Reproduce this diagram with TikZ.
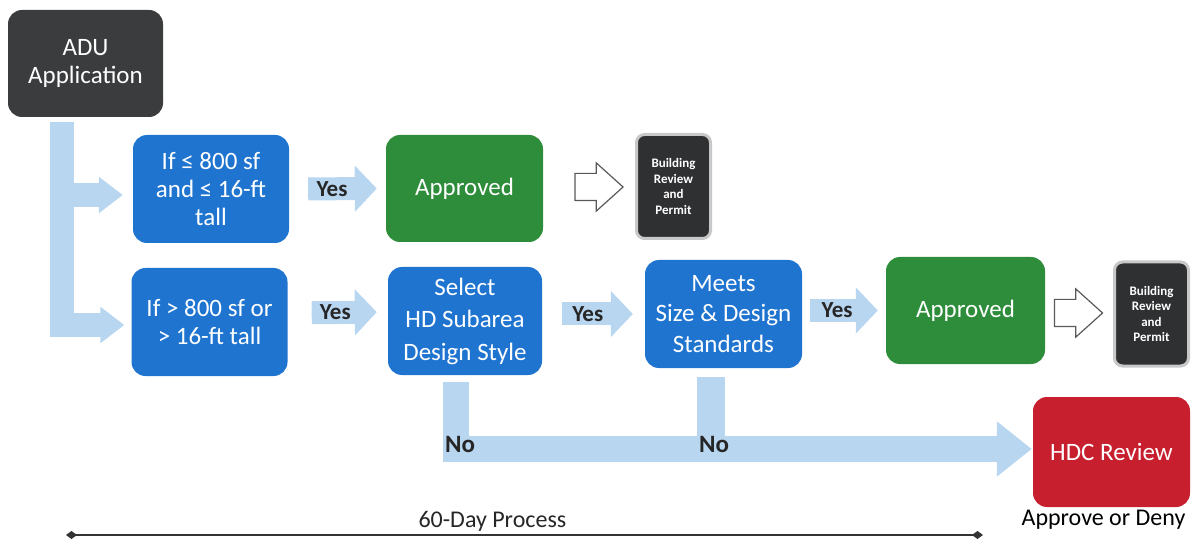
\documentclass[tikz,border=0pt]{standalone}
\usepackage{fontspec}
\setmainfont{Carlito}
\usetikzlibrary{arrows.meta,positioning,calc,shapes.arrows}

\definecolor{aduGray}{HTML}{3B3C3E}
\definecolor{stepBlue}{HTML}{1F74D0}
\definecolor{okGreen}{HTML}{2E8D3A}
\definecolor{hdcRed}{HTML}{C71F2E}
\definecolor{permitGray}{HTML}{2F3032}
\definecolor{rimGray}{HTML}{C8C8C8}
\definecolor{flowBlue}{HTML}{B9D6F1}
\definecolor{inkGray}{HTML}{262626}

\begin{document}
\begin{tikzpicture}[x=1pt,y=-1pt,
    box/.style={rounded corners=14pt,minimum width=156pt,minimum height=108pt,inner sep=0pt,align=center,text=white,font=\fontsize{25}{28}\selectfont},
    startbox/.style={box,fill=aduGray},
    askbox/.style={box,fill=stepBlue},
    okbox/.style={box,fill=okGreen},
    hdcbox/.style={box,fill=hdcRed},
    permitbox/.style={rounded corners=8pt,fill=permitGray,draw=rimGray,line width=3pt,minimum width=74pt,minimum height=104pt,inner sep=0pt,align=center,text=white,font=\bfseries\fontsize{13}{15.5}\selectfont},
    band/.style={draw=flowBlue,line width=24pt,line join=miter,-{Triangle[length=24pt,width=35pt]}},
    yesband/.style={draw=flowBlue,line width=23pt,-{Triangle[length=22pt,width=45pt]}},
    noband/.style={draw=flowBlue,line width=26pt,line join=miter,-{Triangle[length=35pt,width=53pt]}},
    flowlabel/.style={text=inkGray,inner sep=0pt,font=\bfseries\fontsize{23}{24}\selectfont},
    hollow/.style={single arrow,draw=black!65,fill=white,line width=1.2pt,inner xsep=0pt,inner ysep=13pt,minimum height=48pt,single arrow head extend=10.5pt,single arrow tip angle=84},
    timeline/.style={draw=black!80,line width=2.2pt,{Diamond[length=11pt,width=8pt]}-{Diamond[length=11pt,width=8pt]}}
]
    \useasboundingbox (0,0) rectangle (1195,540);

    % boxes
    \node[startbox,minimum width=155pt,minimum height=107pt] (adu) at (85.5,63.5) {ADU\\Application};

    \node[askbox] (q1) at (211,189) {If ≤ 800 sf\\and ≤ 16-ft\\tall};
    \node[askbox] (q2) at (209.5,322) {If > 800 sf or\\> 16-ft tall};

    \node[okbox,minimum width=157pt,minimum height=107pt] (ok1) at (464.5,188.5) {Approved};
    \node[permitbox] (bp1) at (673.5,186.5) {Building\\Review\\and\\Permit};

    \node[askbox,minimum width=154pt,font=\fontsize{25}{32.5}\selectfont] (sel) at (465,321) {Select\\HD Subarea\\Design Style};
    \node[askbox,minimum width=157pt,font=\fontsize{25}{30.5}\selectfont] (meets) at (723.5,314) {Meets\\Size \& Design\\Standards};
    \node[okbox,minimum width=159pt,minimum height=107pt] (ok2) at (965.5,310.5) {Approved};
    \node[permitbox] (bp2) at (1151.5,314) {Building\\Review\\and\\Permit};

    \node[hdcbox,minimum width=157pt,minimum height=110pt] (hdc) at (1111.5,452) {HDC Review};
    \node[inner sep=0pt,font=\fontsize{24}{27}\selectfont,below=3pt of hdc,xshift=-8pt] (verdict) {Approve or Deny};

    % branch from the application
    \coordinate (trunk) at ([xshift=-23.5pt,yshift=-5pt]adu.south);
    \coordinate (b1) at ([yshift=-6pt]q1.west);
    \coordinate (b2) at ([yshift=-3pt]q2.west);
    \draw[band,shorten >=7pt] (trunk) |- (b2);
    \draw[band,shorten >=10pt] (trunk |- b1) -- (b1);

    % yes steps
    \draw[yesband,shorten <=19pt,shorten >=9pt] (q1.east) -- node[flowlabel,pos=0.443]{Yes} (ok1.west);
    \draw[yesband,shorten <=24pt,shorten >=11pt] ([yshift=9pt]q2.east) -- node[flowlabel,pos=0.475]{Yes} ([yshift=9pt]sel.west);
    \draw[yesband,shorten <=20pt,shorten >=12pt] (sel.east |- meets.west) -- node[flowlabel,pos=0.444]{Yes} (meets.west);
    \draw[yesband,shorten <=8pt,shorten >=8pt] (meets.east |- ok2.west) -- node[flowlabel,pos=0.417]{Yes} (ok2.west);

    % on to the permit
    \node[hollow] (hol1) at (591.5,187) {};
    \node[hollow] (hol2) at (1071,313) {};

    % no steps
    \coordinate (nostart) at ([xshift=-9.5pt,yshift=-7pt]sel.south);
    \coordinate (nomerge) at ([yshift=3pt]hdc.west);
    \coordinate (stub) at ([xshift=-12.5pt,yshift=-9pt]meets.south);
    \draw[noband,shorten >=1pt] (nostart) |- (nomerge);
    \draw[noband,-,line width=28pt] (stub) -- (stub |- nomerge);
    \node[flowlabel,font=\bfseries\fontsize{25}{26}\selectfont] (no1) at (460,444) {No};
    \node[flowlabel,font=\bfseries\fontsize{25}{26}\selectfont] (no2) at (714,444) {No};

    % time span
    \coordinate (tl0) at (66,535);
    \coordinate (tl1) at (983,535);
    \draw[timeline] (tl0) -- node[pos=0.465,above=3pt,inner sep=0pt,text=inkGray,font=\fontsize{24}{27}\selectfont] (span) {60-Day Process} (tl1);

\end{tikzpicture}
\end{document}
